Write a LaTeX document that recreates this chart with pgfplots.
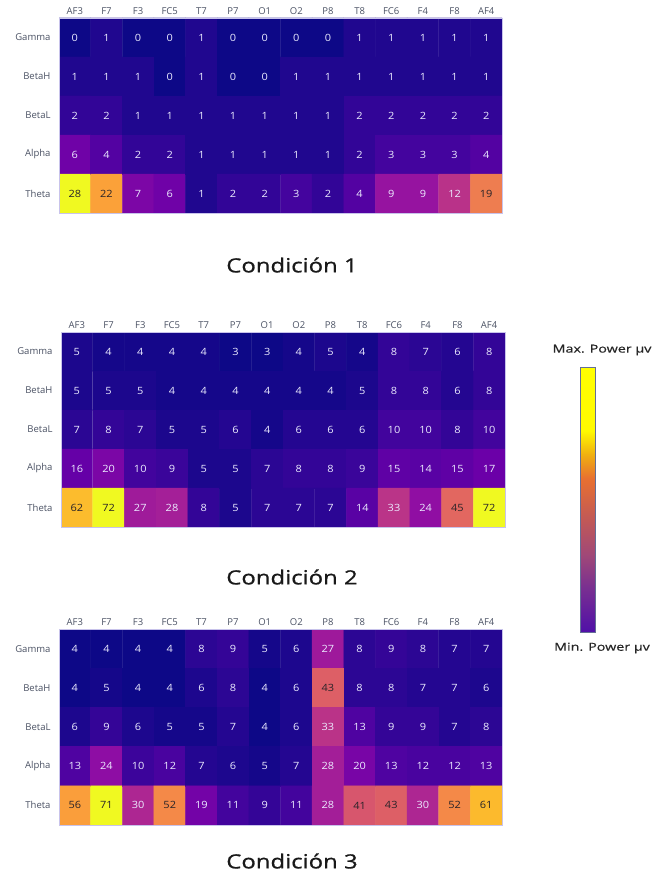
\documentclass[border=0pt]{standalone}
\usepackage{pgfplots}
\pgfplotsset{compat=1.18}
\usepackage{fontspec}
\setmainfont{Open Sans}
\newfontfamily\titlefont{Open Sans}[FakeBold=0.7]
\newfontfamily\cblabelfont{Open Sans}[FakeBold=0.4]
\definecolor{lbl}{RGB}{75,82,100}
\definecolor{dtext}{RGB}{40,35,40}
\definecolor{cbframe}{RGB}{100,110,150}
\definecolor{hmframe}{RGB}{200,195,235}
\pgfplotsset{
  colormap={plasma}{rgb255(0)=(13,8,135) rgb255(1)=(65,4,157) rgb255(2)=(106,0,168) rgb255(3)=(143,13,164) rgb255(4)=(177,42,144) rgb255(5)=(204,71,120) rgb255(6)=(225,100,98) rgb255(7)=(242,132,75) rgb255(8)=(252,166,54) rgb255(9)=(252,206,37) rgb255(10)=(240,249,33)},
  colormap={cbar}{rgb255(0)=(80,16,168) rgb255(17)=(122,48,144) rgb255(29)=(160,72,120) rgb255(42)=(192,88,88) rgb255(58)=(232,112,48) rgb255(67)=(240,176,16) rgb255(76)=(255,250,0) rgb255(100)=(255,255,0)},
  heat/.style={
    scale only axis, width=443pt, height=195pt,
    anchor=north west,
    colormap name=plasma,
    xmin=-0.5, xmax=13.5, ymin=-0.5, ymax=4.5,
    enlargelimits=false, y dir=reverse,
    axis line style={draw=hmframe, line width=0.5pt},
    major tick length=0pt, tick style={draw=none},
    xtick={0,...,13},
    xticklabels={AF3,F7,F3,FC5,T7,P7,O1,O2,P8,T8,FC6,F4,F8,AF4},
    xticklabel pos=upper,
    ytick={0,...,4},
    yticklabels={Gamma,BetaH,BetaL,Alpha,Theta},
    yticklabel style={xshift=-5pt},
    ticklabel style={font=\fontsize{9.5}{11}\selectfont, text=lbl},
    /pgf/number format/assume math mode=true,
    nodes near coords={\ifdim\pgfplotspointmetatransformed pt>500pt\relax\color{dtext}\else\color{white!92!blue}\fi\pgfmathprintnumber{\pgfplotspointmeta}},
    nodes near coords style={anchor=center, font=\fontsize{10}{12}\selectfont, inner sep=0pt, xscale=1.1},
  },
  hm/.style={matrix plot, mesh/cols=14, point meta=explicit, draw=mapped color, line width=0.4pt},
}
\begin{document}
\begin{tikzpicture}
\path[use as bounding box] (0,0) rectangle (657pt,-874pt);

% Condicion 1
\begin{axis}[heat, at={(59pt,-18pt)}]
\addplot[hm] table[meta=z, row sep=\\]{
x y z\\
0 0 0\\ 1 0 1\\ 2 0 0\\ 3 0 0\\ 4 0 1\\ 5 0 0\\ 6 0 0\\ 7 0 0\\ 8 0 0\\ 9 0 1\\ 10 0 1\\ 11 0 1\\ 12 0 1\\ 13 0 1\\
0 1 1\\ 1 1 1\\ 2 1 1\\ 3 1 0\\ 4 1 1\\ 5 1 0\\ 6 1 0\\ 7 1 1\\ 8 1 1\\ 9 1 1\\ 10 1 1\\ 11 1 1\\ 12 1 1\\ 13 1 1\\
0 2 2\\ 1 2 2\\ 2 2 1\\ 3 2 1\\ 4 2 1\\ 5 2 1\\ 6 2 1\\ 7 2 1\\ 8 2 1\\ 9 2 2\\ 10 2 2\\ 11 2 2\\ 12 2 2\\ 13 2 2\\
0 3 6\\ 1 3 4\\ 2 3 2\\ 3 3 2\\ 4 3 1\\ 5 3 1\\ 6 3 1\\ 7 3 1\\ 8 3 1\\ 9 3 2\\ 10 3 3\\ 11 3 3\\ 12 3 3\\ 13 3 4\\
0 4 28\\ 1 4 22\\ 2 4 7\\ 3 4 6\\ 4 4 1\\ 5 4 2\\ 6 4 2\\ 7 4 3\\ 8 4 2\\ 9 4 4\\ 10 4 9\\ 11 4 9\\ 12 4 12\\ 13 4 19\\
};
\end{axis}

% Condicion 2
\begin{axis}[heat, at={(61pt,-332pt)}, width=444pt,
  colorbar,
  colorbar style={at={(parent axis.north east)}, anchor=north west,
    xshift=67pt, yshift=-35pt, width=15pt, height=265pt,
    colormap name=cbar, ytick=\empty,
    axis line style={draw=cbframe, line width=0.6pt}}]
\addplot[hm] table[meta=z, row sep=\\]{
x y z\\
0 0 5\\ 1 0 4\\ 2 0 4\\ 3 0 4\\ 4 0 4\\ 5 0 3\\ 6 0 3\\ 7 0 4\\ 8 0 5\\ 9 0 4\\ 10 0 8\\ 11 0 7\\ 12 0 6\\ 13 0 8\\
0 1 5\\ 1 1 5\\ 2 1 5\\ 3 1 4\\ 4 1 4\\ 5 1 4\\ 6 1 4\\ 7 1 4\\ 8 1 4\\ 9 1 5\\ 10 1 8\\ 11 1 8\\ 12 1 6\\ 13 1 8\\
0 2 7\\ 1 2 8\\ 2 2 7\\ 3 2 5\\ 4 2 5\\ 5 2 6\\ 6 2 4\\ 7 2 6\\ 8 2 6\\ 9 2 6\\ 10 2 10\\ 11 2 10\\ 12 2 8\\ 13 2 10\\
0 3 16\\ 1 3 20\\ 2 3 10\\ 3 3 9\\ 4 3 5\\ 5 3 5\\ 6 3 7\\ 7 3 8\\ 8 3 8\\ 9 3 9\\ 10 3 15\\ 11 3 14\\ 12 3 15\\ 13 3 17\\
0 4 62\\ 1 4 72\\ 2 4 27\\ 3 4 28\\ 4 4 8\\ 5 4 5\\ 6 4 7\\ 7 4 7\\ 8 4 7\\ 9 4 14\\ 10 4 33\\ 11 4 24\\ 12 4 45\\ 13 4 72\\
};
\end{axis}

% Condicion 3
\begin{axis}[heat, at={(59pt,-629pt)}, height=196pt]
\addplot[hm] table[meta=z, row sep=\\]{
x y z\\
0 0 4\\ 1 0 4\\ 2 0 4\\ 3 0 4\\ 4 0 8\\ 5 0 9\\ 6 0 5\\ 7 0 6\\ 8 0 27\\ 9 0 8\\ 10 0 9\\ 11 0 8\\ 12 0 7\\ 13 0 7\\
0 1 4\\ 1 1 5\\ 2 1 4\\ 3 1 4\\ 4 1 6\\ 5 1 8\\ 6 1 4\\ 7 1 6\\ 8 1 43\\ 9 1 8\\ 10 1 8\\ 11 1 7\\ 12 1 7\\ 13 1 6\\
0 2 6\\ 1 2 9\\ 2 2 6\\ 3 2 5\\ 4 2 5\\ 5 2 7\\ 6 2 4\\ 7 2 6\\ 8 2 33\\ 9 2 13\\ 10 2 9\\ 11 2 9\\ 12 2 7\\ 13 2 8\\
0 3 13\\ 1 3 24\\ 2 3 10\\ 3 3 12\\ 4 3 7\\ 5 3 6\\ 6 3 5\\ 7 3 7\\ 8 3 28\\ 9 3 20\\ 10 3 13\\ 11 3 12\\ 12 3 12\\ 13 3 13\\
0 4 56\\ 1 4 71\\ 2 4 30\\ 3 4 52\\ 4 4 19\\ 5 4 11\\ 6 4 9\\ 7 4 11\\ 8 4 28\\ 9 4 41\\ 10 4 43\\ 11 4 30\\ 12 4 52\\ 13 4 61\\
};
\end{axis}

% Titles
\node[xscale=1.22, text=black!90, font=\titlefont\fontsize{19.6}{22}\selectfont] at (292pt,-265pt) {Condición 1};
\node[xscale=1.22, text=black!90, font=\titlefont\fontsize{19.6}{22}\selectfont] at (292pt,-577pt) {Condición 2};
\node[xscale=1.22, text=black!90, font=\titlefont\fontsize{19.6}{22}\selectfont] at (292pt,-861pt) {Condición 3};

% Colorbar labels
\node[xscale=1.3, text=black!85, font=\cblabelfont\fontsize{11}{13}\selectfont] at (602pt,-350pt) {Max. Power µv};
\node[xscale=1.3, text=black!85, font=\cblabelfont\fontsize{11}{13}\selectfont] at (602pt,-648pt) {Min. Power µv};
\end{tikzpicture}
\end{document}
